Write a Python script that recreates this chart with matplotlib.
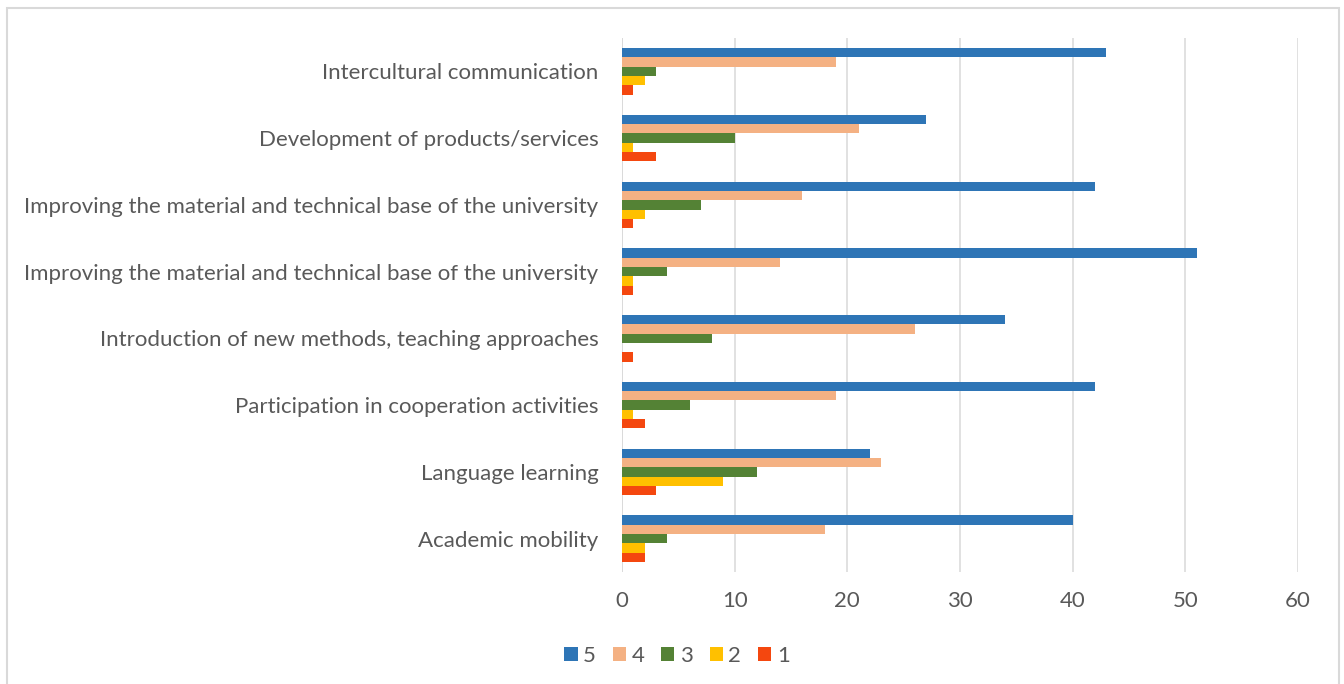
import matplotlib
matplotlib.use("Agg")
import matplotlib.pyplot as plt
from matplotlib.patches import Rectangle
import numpy as np

# survey areas, listed bottom to top as they appear on the y axis
categories = [
    "Academic mobility",
    "Language learning",
    "Participation in cooperation activities",
    "Introduction of new methods, teaching approaches",
    "Improving the material and technical base of the university",
    "Improving the material and technical base of the university",
    "Development of products/services",
    "Intercultural communication",
]

# number of answers per score, same order as categories
score_5 = [40, 22, 42, 34, 51, 42, 27, 43]
score_4 = [18, 23, 19, 26, 14, 16, 21, 19]
score_3 = [4, 12, 6, 8, 4, 7, 10, 3]
score_2 = [2, 9, 1, 0, 1, 2, 1, 2]
score_1 = [2, 3, 2, 1, 1, 1, 3, 1]

series = [("5", score_5, "#2E75B6"),
          ("4", score_4, "#F4B183"),
          ("3", score_3, "#548235"),
          ("2", score_2, "#FFC000"),
          ("1", score_1, "#F4470F")]

text_color = "#595959"
grid_color = "#D9D9D9"
plt.rcParams["font.family"] = ["Lato", "DejaVu Sans"]

fig = plt.figure(figsize=(13.44, 6.84), dpi=100)
ax = fig.add_axes([622 / 1344, 112 / 684, 676 / 1344, 534 / 684])

y = np.arange(len(categories))
h = 0.139
for k, (name, vals, col) in enumerate(series):
    ax.barh(y + (2 - k) * h, vals, height=h, color=col, label=name)

ax.set_xlim(0, 60)
ax.set_ylim(-0.5, len(categories) - 0.5)
ax.set_xticks(range(0, 61, 10))
ax.set_yticks(y)
ax.set_yticklabels(categories)

ax.xaxis.grid(True, color=grid_color, linewidth=1.1)
ax.set_axisbelow(True)
for s in ax.spines.values():
    s.set_visible(False)
ax.axvline(0, color=grid_color, linewidth=1.1, zorder=0)

ax.tick_params(axis="both", length=0, colors=text_color, labelsize=16)
ax.tick_params(axis="x", pad=14)
ax.tick_params(axis="y", pad=17)

fig.legend(loc="center", bbox_to_anchor=(677 / 1344, 1 - 656 / 684), ncol=5,
           frameon=False, fontsize=16, labelcolor=text_color,
           handlelength=0.6, handleheight=0.6, handletextpad=0.25,
           columnspacing=0.75)

# light frame around the whole chart
fig.patches.append(Rectangle((7 / 1344, -0.05), 1332 / 1344, 1.05 - 8 / 684,
                             transform=fig.transFigure, fill=False,
                             edgecolor=grid_color, linewidth=1.5))

fig.savefig("out.png", dpi=100)
